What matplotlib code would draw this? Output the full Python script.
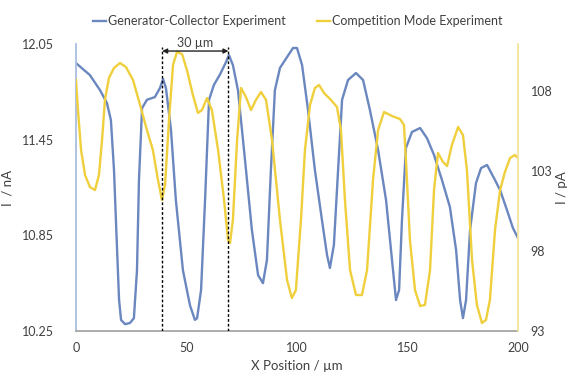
import matplotlib
matplotlib.use("Agg")
import matplotlib.pyplot as plt

plt.rcParams["font.family"] = ["Lato", "DejaVu Sans"]

# Generator-Collector experiment (left axis, nA)
gc_x = [0, 6.3, 10.9, 14.0, 15.8, 17.2, 18.6, 19.5, 20.4, 22.2, 24.4, 26.2, 27.6, 28.5,
        29.9, 32.1, 35.7, 38.0, 39.4, 40.7, 43.0, 45.2, 48.4, 51.6, 53.8, 54.8, 56.6,
        58.4, 60.2, 62.4, 65.2, 67.9, 69.2, 71.0, 73.3, 76.5, 79.6, 82.4, 84.6, 86.4,
        88.2, 90.0, 92.3, 95.5, 98.2, 100.0, 102.3, 105.0, 108.1, 111.3, 113.6, 114.9,
        116.7, 118.6, 120.4, 123.1, 126.7, 129.9, 133.0, 136.7, 140.3, 143.0, 144.8,
        146.2, 147.5, 149.3, 152.0, 155.7, 158.8, 162.0, 165.6, 169.2, 172.0, 173.8,
        175.1, 176.5, 178.3, 181.0, 183.3, 186.0, 189.1, 191.9, 195.0, 197.7, 200.0]
gc_y = [11.93, 11.855, 11.76, 11.68, 11.573, 11.26, 10.757, 10.444, 10.319, 10.293,
        10.30, 10.33, 10.63, 11.197, 11.648, 11.70, 11.717, 11.774, 11.83, 11.774,
        11.51, 11.07, 10.63, 10.41, 10.32, 10.33, 10.507, 11.07, 11.70, 11.793, 11.86,
        11.937, 11.98, 11.918, 11.76, 11.32, 10.883, 10.60, 10.55, 10.695, 11.26,
        11.76, 11.90, 11.968, 12.025, 12.025, 11.918, 11.636, 11.26, 10.946, 10.726,
        10.645, 10.79, 11.26, 11.70, 11.824, 11.868, 11.824, 11.636, 11.385, 11.071,
        10.695, 10.444, 10.507, 10.946, 11.398, 11.498, 11.523, 11.46, 11.354, 11.197,
        11.027, 10.757, 10.444, 10.331, 10.444, 10.883, 11.178, 11.272, 11.291, 11.21,
        11.134, 11.009, 10.896, 10.833]

# Competition mode experiment (right axis, pA)
cm_x = [0, 0.9, 2.3, 4.1, 6.3, 8.6, 10.4, 11.8, 13.1, 14.9, 17.2, 19.9, 22.6, 25.8,
        29.0, 32.1, 34.8, 37.1, 38.9, 40.3, 42.1, 43.9, 45.7, 48.0, 50.2, 52.9, 55.2,
        57.0, 59.3, 61.5, 64.3, 67.0, 68.8, 69.7, 71.0, 72.9, 74.7, 76.9, 79.2, 81.4,
        83.7, 86.0, 88.7, 92.3, 95.5, 97.7, 99.5, 101.8, 103.6, 105.9, 108.1, 110.0,
        112.2, 115.4, 118.1, 119.9, 121.7, 124.0, 126.7, 129.4, 131.7, 134.4, 136.7,
        139.4, 143.0, 146.6, 148.4, 149.3, 151.1, 153.4, 155.7, 157.9, 160.2, 162.0,
        163.8, 166.1, 167.9, 170.1, 172.9, 175.1, 176.9, 179.2, 181.4, 183.7, 185.5,
        187.3, 189.6, 191.9, 194.1, 196.4, 198.6, 200.0]
cm_y = [108.69, 106.81, 104.31, 102.75, 102.0, 101.81, 102.75, 104.94, 107.44, 108.81,
        109.44, 109.75, 109.5, 108.69, 107.13, 105.56, 104.31, 102.44, 101.19, 102.13,
        106.19, 109.63, 110.44, 110.31, 109.31, 107.75, 106.63, 106.81, 107.56, 106.81,
        104.31, 101.19, 98.69, 98.5, 99.94, 104.94, 108.19, 107.63, 106.81, 107.44,
        107.94, 107.44, 104.94, 99.94, 96.19, 95.06, 95.56, 99.94, 104.31, 107.13,
        108.19, 108.38, 107.88, 107.44, 107.0, 105.56, 101.19, 96.81, 95.25, 95.25,
        96.81, 102.44, 105.56, 106.69, 106.44, 106.25, 105.88, 103.69, 98.69, 95.56,
        94.56, 94.63, 96.81, 101.81, 104.13, 103.56, 103.31, 104.63, 105.75, 105.25,
        103.06, 97.44, 94.63, 93.5, 93.69, 94.94, 99.31, 101.81, 102.94, 103.81, 104.0,
        103.81]

left_ticks = [10.25, 10.85, 11.45, 12.05]
right_ticks = [93, 98, 103, 108]
x_ticks = [0, 50, 100, 150, 200]
marker_x = [39, 69]

blue = "#6b87bf"
yellow = "#f0cf3c"
txt = "#404040"

fig = plt.figure(figsize=(5.73, 3.76), dpi=100)
ax = fig.add_axes([0.1326, 0.1197, 0.904 - 0.1326, 0.883 - 0.1197])
ax2 = ax.twinx()

l1, = ax.plot(gc_x, gc_y, color=blue, lw=1.7, solid_joinstyle="round",
              label="Generator-Collector Experiment")
l2, = ax2.plot(cm_x, cm_y, color=yellow, lw=1.7, solid_joinstyle="round",
               label="Competition Mode Experiment")

ax.set_xlim(0, 200)
ax.set_ylim(10.25, 12.05)
ax2.set_ylim(93, 110.94)
ax.set_xticks(x_ticks)
ax.set_yticks(left_ticks)
ax.set_yticklabels([f"{v:.2f}" for v in left_ticks])
ax2.set_yticks(right_ticks)

for a in (ax, ax2):
    a.tick_params(length=0, labelsize=9, colors=txt)
    a.spines["top"].set_visible(False)
ax.tick_params(axis="y", pad=16)
ax2.tick_params(axis="y", pad=9)
ax.tick_params(axis="x", pad=8)
ax.spines["left"].set_color("#a9bfe0")
ax.spines["bottom"].set_color("#a6a6a6")
ax2.spines["right"].set_color("#f3e49c")
ax2.spines["left"].set_visible(False)
ax2.spines["bottom"].set_visible(False)
for s in ("left", "bottom"):
    ax.spines[s].set_linewidth(1.3)
ax2.spines["right"].set_linewidth(1.3)
ax.spines["right"].set_visible(False)

ax.set_xlabel("X Position / µm", fontsize=9.5, color=txt, labelpad=4)
ax.set_ylabel("I  / nA", fontsize=9.5, color=txt, labelpad=6)
ax2.set_ylabel("I / pA", fontsize=9.5, color=txt, rotation=90, labelpad=3)

# 30 µm spacing marker
for xv in marker_x:
    ax2.axvline(xv, ymin=0, ymax=0.99, color="black", lw=1.0, ls=(0, (2, 1.5)))
ax2.annotate("", xy=(marker_x[0], 110.5), xytext=(marker_x[1], 110.5),
             arrowprops=dict(arrowstyle="<|-|>", color="#222222", lw=1.0,
                             mutation_scale=7, shrinkA=0, shrinkB=0))
ax2.text(sum(marker_x) / 2, 110.6, "30 µm", ha="center", va="bottom",
         fontsize=9, color=txt)

fig.legend(handles=[l1, l2], loc="upper center", bbox_to_anchor=(0.52, 0.99),
           ncol=2, frameon=False, fontsize=9, handlelength=1.0, handletextpad=0.2,
           columnspacing=2.5, labelcolor=txt)

fig.savefig("out.png", dpi=100)
